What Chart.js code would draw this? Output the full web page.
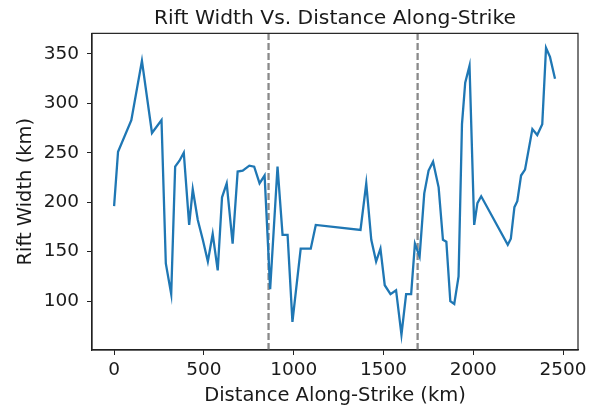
<!DOCTYPE html>
<html>
<head>
<meta charset="utf-8">
<script src="https://cdn.jsdelivr.net/npm/chart.js@4.4.1/dist/chart.umd.min.js"></script>
<style>
  html, body { margin: 0; padding: 0; background: #fff; }
  canvas { display: block; }
</style>
</head>
<body>
<canvas id="riftChart" width="598" height="411"></canvas>
<script>
// distance along strike (km) and rift width (km)
const distance = [0, 22, 96, 155, 211, 264, 288, 318, 340, 364, 388, 418, 438, 466, 494,
  522, 549, 577, 601, 627, 660, 688, 716, 753, 780, 810, 838, 869, 910, 938,
  966, 993, 1039, 1095, 1123, 1372, 1404, 1432, 1459, 1483, 1507, 1539, 1570, 1600, 1626,
  1654, 1675, 1701, 1727, 1751, 1776, 1807, 1831, 1850, 1872, 1894, 1918, 1937, 1955, 1979,
  2005, 2023, 2044, 2192, 2209, 2229, 2245, 2266, 2288, 2329, 2356, 2384, 2405, 2427, 2455];
const riftWidth = [196, 251, 283, 343, 270, 283, 138, 107, 236, 242, 250, 177, 213, 182, 162,
  140, 168, 131, 205, 219, 158, 231, 232, 237, 236, 219, 227, 112, 236, 167,
  167, 79, 153, 153, 177, 172, 219, 162, 140, 153, 116, 107, 111, 66, 107,
  107, 158, 145, 209, 232, 241, 215, 162, 160, 100, 97, 125, 279, 321, 338,
  177, 199, 206, 157, 163, 195, 201, 227, 233, 274, 268, 279, 356, 347, 325];

// segment boundaries (dashed lines)
const boundaries = [860, 1690];

const xTicks = [0, 500, 1000, 1500, 2000, 2500];
const yTicks = [100, 150, 200, 250, 300, 350];

// axis limits with matplotlib-like 5% margins
const xMin = -123, xMax = 2583;
const yMin = 50.5, yMax = 370.8;

const FONT = "'DejaVu Sans', sans-serif";
const TEXT = '#1a1a1a';
const SPINE = '#222';

const lineData = distance.map((d, i) => ({ x: d, y: riftWidth[i] }));

const datasets = [{
  data: lineData,
  borderColor: '#1f77b4',
  borderWidth: 2.3,
  pointRadius: 0,
  tension: 0,
  fill: false
}];

boundaries.forEach(b => {
  datasets.push({
    data: [{ x: b, y: yMin }, { x: b, y: yMax }],
    borderColor: '#8a8a8a',
    borderWidth: 2.3,
    borderDash: [7, 3],
    pointRadius: 0,
    fill: false
  });
});

// box around the plot area (matplotlib spines)
const spines = {
  id: 'spines',
  afterDraw(chart) {
    const c = chart.ctx;
    const a = chart.chartArea;
    c.save();
    c.setLineDash([]); // the dashed datasets leave a dash pattern behind
    c.strokeStyle = SPINE;
    c.lineWidth = 1.2;
    c.strokeRect(a.left, a.top, a.right - a.left, a.bottom - a.top);
    c.restore();
  }
};

new Chart(document.getElementById('riftChart'), {
  type: 'line',
  data: { datasets: datasets },
  plugins: [spines],
  options: {
    responsive: false,
    animation: false,
    layout: { padding: { left: 0, right: 20, top: 0, bottom: 0 } },
    plugins: {
      legend: { display: false },
      tooltip: { enabled: false },
      title: {
        display: true,
        fullSize: false,
        text: 'Rift Width Vs. Distance Along-Strike',
        color: TEXT,
        font: { family: FONT, size: 20.3, weight: 'normal' },
        padding: { top: 7, bottom: 2 }
      }
    },
    scales: {
      x: {
        type: 'linear',
        min: xMin,
        max: xMax,
        afterBuildTicks: s => { s.ticks = xTicks.map(v => ({ value: v })); },
        afterFit: s => { s.height = 61; },
        ticks: {
          color: TEXT,
          font: { family: FONT, size: 18.5 },
          padding: 4,
          maxRotation: 0,
          callback: v => String(v)
        },
        grid: { drawOnChartArea: false, drawTicks: true, tickLength: 5, tickColor: SPINE },
        border: { display: true, color: SPINE, width: 1.2 },
        title: {
          display: true,
          text: 'Distance Along-Strike (km)',
          color: TEXT,
          font: { family: FONT, size: 19.5 },
          padding: { top: 3.5, bottom: 3.5 }
        }
      },
      y: {
        type: 'linear',
        min: yMin,
        max: yMax,
        afterBuildTicks: s => { s.ticks = yTicks.map(v => ({ value: v })); },
        afterFit: s => { s.width = 92; },
        ticks: {
          color: TEXT,
          font: { family: FONT, size: 18.5 },
          padding: 8,
          callback: v => String(v)
        },
        grid: { drawOnChartArea: false, drawTicks: true, tickLength: 5, tickColor: SPINE },
        border: { display: true, color: SPINE, width: 1.2 },
        title: {
          display: true,
          text: 'Rift Width (km)',
          color: TEXT,
          font: { family: FONT, size: 19.5 },
          padding: { top: 14, bottom: 14 }
        }
      }
    }
  }
});
</script>
</body>
</html>
